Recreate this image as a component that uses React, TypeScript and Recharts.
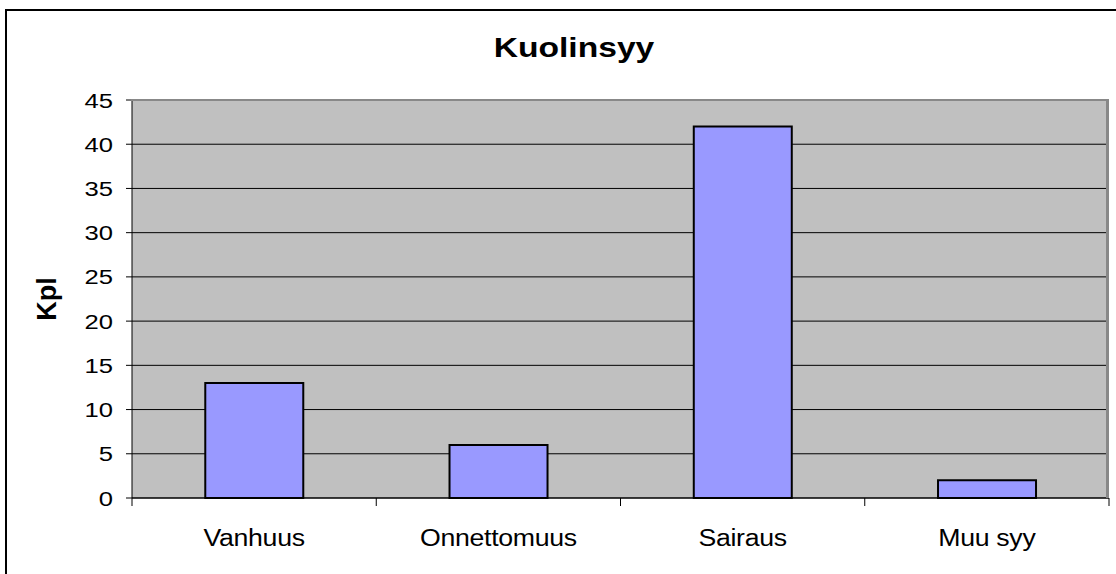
import { BarChart, Bar, XAxis, YAxis, CartesianGrid } from "recharts";

const categories = ["Vanhuus", "Onnettomuus", "Sairaus", "Muu syy"];
const counts = [13, 6, 42, 2];
const yTicks = [0, 5, 10, 15, 20, 25, 30, 35, 40, 45];

const data = categories.map((name, i) => ({ name, kpl: counts[i] }));

const W = 1116;
const H = 574;
const PLOT_LEFT = 132;
const PLOT_RIGHT = 1109;
const PLOT_TOP = 100;
const PLOT_BOTTOM = 498;
const BAND = (PLOT_RIGHT - PLOT_LEFT) / categories.length;
const FONT = "'Liberation Sans', Arial, sans-serif";

function CatTick(props: any) {
  const { x, payload, index } = props;
  const isLast = index === categories.length - 1;
  return (
    <g>
      <line x1={x - BAND / 2} x2={x - BAND / 2} y1={PLOT_BOTTOM} y2={PLOT_BOTTOM + 8} stroke="#000" />
      {isLast && (
        <line x1={x + BAND / 2} x2={x + BAND / 2} y1={PLOT_BOTTOM} y2={PLOT_BOTTOM + 8} stroke="#000" />
      )}
      <text
        transform={`translate(${x}, ${PLOT_BOTTOM + 48}) scale(1.09, 1)`}
        textAnchor="middle"
        fontSize={24.5}
        fontFamily={FONT}
        fill="#000"
        letterSpacing={-0.3}
      >
        {payload.value}
      </text>
    </g>
  );
}

function ValTick(props: any) {
  const { y, payload } = props;
  return (
    <text
      transform={`translate(${PLOT_LEFT - 19}, ${y + 7.5}) scale(1.22, 1)`}
      textAnchor="end"
      fontSize={21}
      fontFamily={FONT}
      fill="#000"
    >
      {payload.value}
    </text>
  );
}

export default function App() {
  return (
    <div style={{ position: "fixed", left: 0, top: 0, width: W, height: H, background: "#fff", overflow: "hidden" }}>
      <div
        style={{
          position: "absolute",
          left: 5,
          top: 9,
          width: W,
          height: H,
          borderLeft: "2px solid #000",
          borderTop: "2px solid #000",
        }}
      />
      <div
        style={{
          position: "absolute",
          left: 0,
          width: 1148,
          top: 32,
          textAlign: "center",
          fontFamily: FONT,
          fontWeight: "bold",
          fontSize: 28,
          transform: "scaleX(1.2)",
          transformOrigin: "574px 0",
        }}
      >
        Kuolinsyy
      </div>
      <div style={{ position: "absolute", left: 0, top: 0 }}>
        <BarChart
          width={W}
          height={H}
          data={data}
          margin={{ top: PLOT_TOP, right: W - PLOT_RIGHT, bottom: 0, left: 0 }}
          barCategoryGap="30%"
        >
          <CartesianGrid vertical={false} stroke="#000" fill="#C0C0C0" fillOpacity={1} />
          <XAxis
            dataKey="name"
            height={H - PLOT_BOTTOM}
            tickLine={false}
            axisLine={{ stroke: "#000" }}
            tick={<CatTick />}
            interval={0}
          />
          <YAxis
            width={PLOT_LEFT}
            domain={[0, 45]}
            ticks={yTicks}
            interval={0}
            tickSize={6}
            tickLine={{ stroke: "#000" }}
            axisLine={{ stroke: "#000" }}
            tick={<ValTick />}
            label={{
              value: "Kpl",
              angle: -90,
              position: "insideLeft",
              dx: 41,
              style: { fontSize: 27, fontWeight: "bold", fontFamily: FONT, fill: "#000", textAnchor: "middle" },
            }}
          />
          <Bar dataKey="kpl" fill="#9999FF" stroke="#000" strokeWidth={2} isAnimationActive={false} />
        </BarChart>
      </div>
      <div
        style={{
          position: "absolute",
          left: PLOT_LEFT - 1,
          top: PLOT_TOP - 1,
          width: PLOT_RIGHT - PLOT_LEFT + 1,
          height: PLOT_BOTTOM - PLOT_TOP + 1,
          borderTop: "2px solid #888",
          borderRight: "3px solid #888",
          pointerEvents: "none",
          boxSizing: "border-box",
        }}
      />
    </div>
  );
}
